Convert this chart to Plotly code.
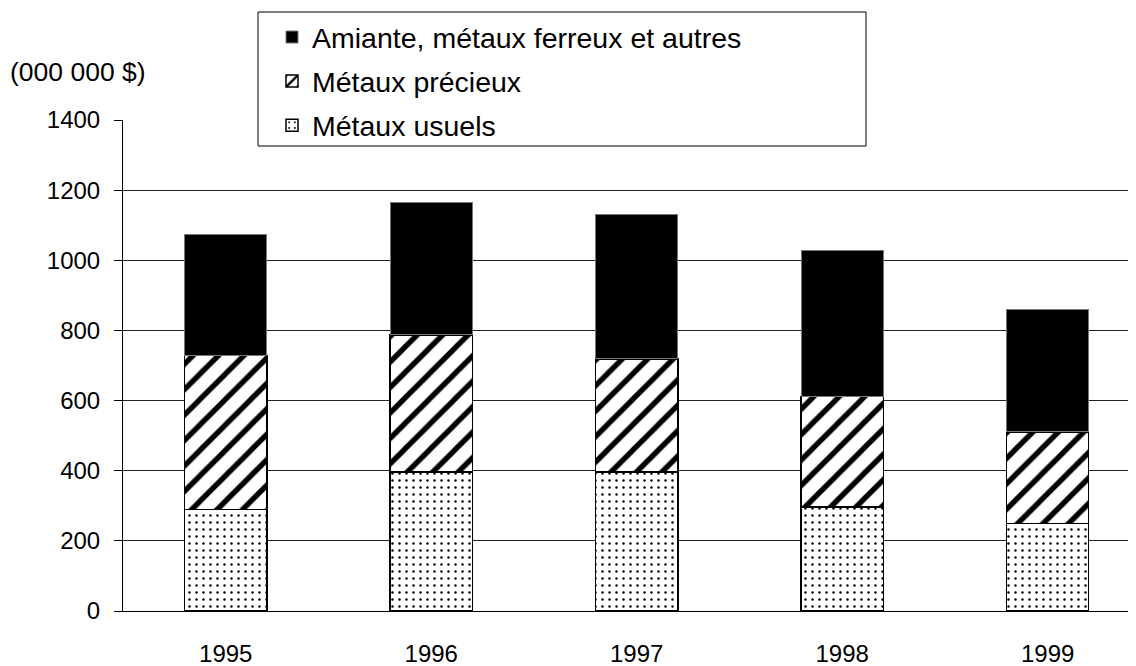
import plotly.graph_objects as go

years = ["1995", "1996", "1997", "1998", "1999"]
usuels = [290, 397, 397, 297, 250]
precieux = [438, 390, 322, 314, 261]
amiante = [345, 377, 411, 418, 350]
y_ticks = [0, 200, 400, 600, 800, 1000, 1200, 1400]

FONT = "Liberation Sans, Arial, sans-serif"

fig = go.Figure()
fig.add_trace(go.Bar(
    x=years, y=usuels, name="Métaux usuels", legendgroup="c", legendrank=3,
    marker=dict(color="white", line=dict(color="black", width=1.5),
                pattern=dict(shape=".", size=7, solidity=0.1, fgcolor="black",
                             bgcolor="white", fgopacity=1)),
    width=0.4,
))
fig.add_trace(go.Bar(
    x=years, y=precieux, name="Métaux précieux", legendgroup="b", legendrank=2,
    marker=dict(color="white", line=dict(color="black", width=1.5),
                pattern=dict(shape="/", size=18, solidity=0.3, fgcolor="black",
                             bgcolor="white", fgopacity=1)),
    width=0.4,
))
fig.add_trace(go.Bar(
    x=years, y=amiante, name="Amiante, métaux ferreux et autres", legendgroup="a", legendrank=1,
    marker=dict(color="black", line=dict(color="#777", width=1)),
    width=0.4,
))

# screen-pixel layout (page body has an 8px default margin)
OFF = 8
L, T, W, H = 123, 120, 1136, 666
pw, ph = W - L, 491

def px_x(p):
    return (p - L) / pw

def px_y(p):
    return (T + ph - p) / ph

fig.add_shape(type="rect", xref="paper", yref="paper",
              x0=px_x(258), x1=px_x(866), y0=px_y(146), y1=px_y(12),
              fillcolor="white", line=dict(color="black", width=1), layer="above")

fig.add_annotation(text="(000 000 $)", xref="paper", yref="paper",
                   x=px_x(8), y=px_y(72), xanchor="left", yanchor="middle",
                   showarrow=False, font=dict(size=26.5, color="black", family=FONT))

fig.update_layout(
    width=W, height=H,
    margin=dict(l=L - OFF, r=OFF, t=T - OFF, b=H - (T - OFF) - ph, autoexpand=False),
    barmode="stack",
    paper_bgcolor="white", plot_bgcolor="white",
    font=dict(family=FONT, color="black", size=24),
    showlegend=True,
    legend=dict(
        x=px_x(272), y=px_y(12), xanchor="left", yanchor="top",
        traceorder="grouped", tracegroupgap=4,
        bgcolor="rgba(0,0,0,0)", borderwidth=0,
        font=dict(size=28.5, color="black", family=FONT),
        itemclick=False,
    ),
    xaxis=dict(
        range=[-0.5, 4.43], showgrid=False, showline=True, linecolor="black", linewidth=1,
        ticks="", tickfont=dict(size=24), ticklabelstandoff=21, automargin=False,
    ),
    yaxis=dict(
        range=[0, 1400], tickvals=y_ticks, showgrid=True, gridcolor="#222", gridwidth=1,
        showline=True, linecolor="black", linewidth=1, ticks="outside", ticklen=8,
        tickcolor="black", tickfont=dict(size=24), zeroline=False, automargin=False,
        ticklabelstandoff=9,
    ),
)

fig.write_html("out.html")
